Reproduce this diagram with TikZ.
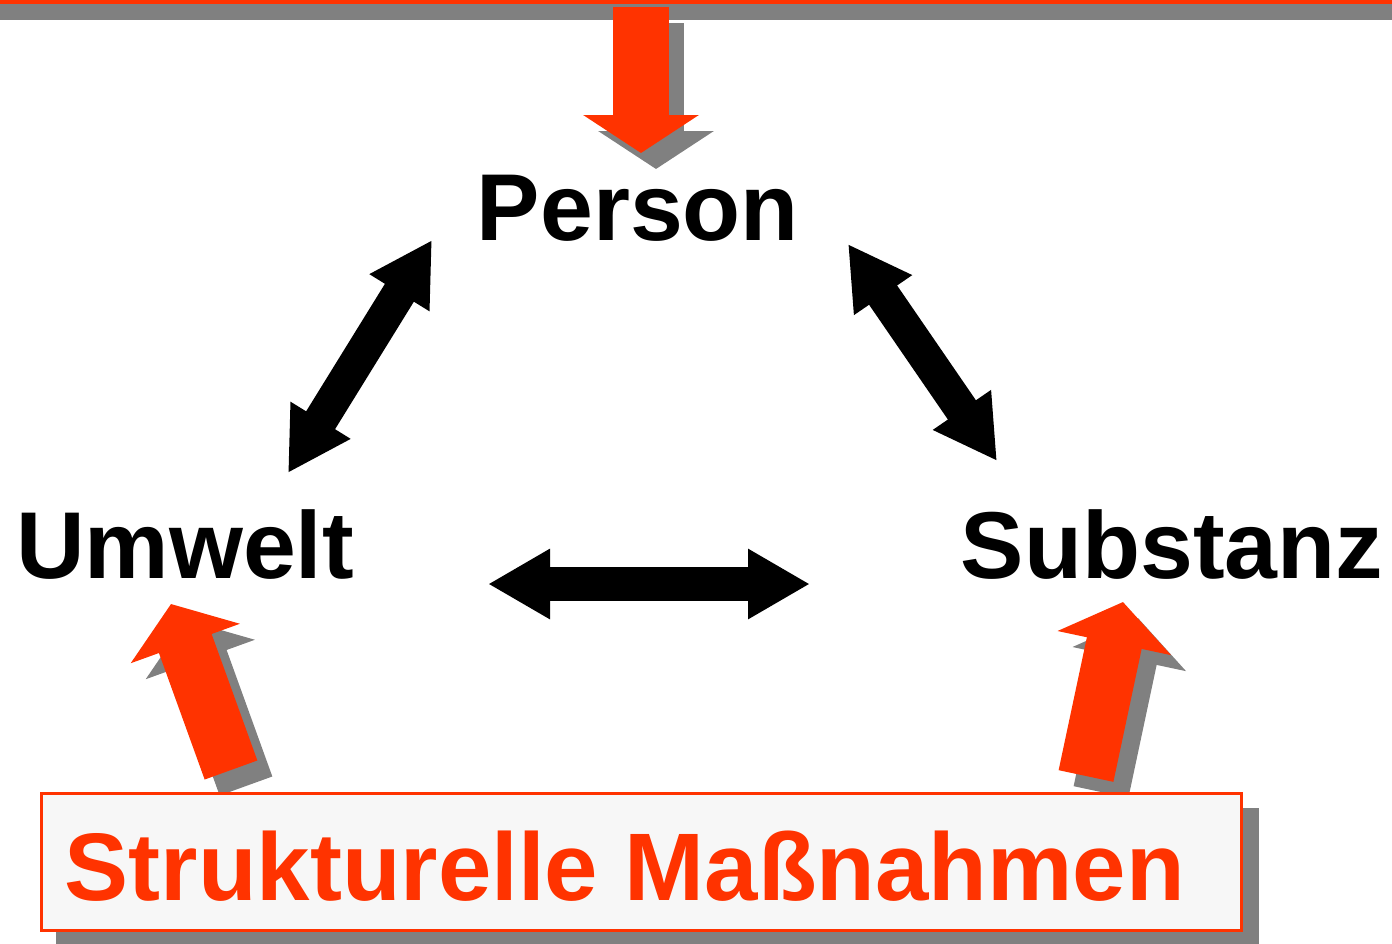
\documentclass[tikz,border=0pt]{standalone}
\usepackage{fontspec}
\setmainfont{Liberation Sans}
\usepackage{tikz}
\usetikzlibrary{arrows.meta}
\definecolor{ffudqq}{rgb}{1.,0.2,0.}
\definecolor{sqsqsq}{rgb}{0.5,0.5,0.5}
\definecolor{fvfvfv}{rgb}{0.97,0.97,0.97}
\tikzset{every node/.style={font=\fontsize{95}{100}\selectfont\bfseries,inner sep=0pt}}

\begin{document}
\begin{tikzpicture}[line cap=butt,line join=miter,x=1pt,y=-1pt,
    duo/.style={line width=34pt,{Triangle[length=62pt 0,width=66pt 0]}-{Triangle[length=62pt 0,width=66pt 0]}},
    lift/.style={line width=56pt,-{Triangle[length=42pt 0,width=114pt 0]}}]
    \useasboundingbox (0,0) rectangle (1392,943);
    % band at the top
    \fill [sqsqsq] (0,4) rectangle (1392,20);
    \fill [ffudqq] (0,0) rectangle (1392,4);
    % labels
    \node [anchor=base] (person) at (638,240) {Person};
    \node [anchor=base] (umwelt) at (185,578) {Umwelt};
    \node [anchor=base] (substanz) at (1172,578) {Substanz};
    % ends of the arrows
    \coordinate (pu) at (432,240); \coordinate (up) at (288,473);
    \coordinate (ps) at (848,244); \coordinate (sp) at (997,461);
    \coordinate (us) at (488,584); \coordinate (su) at (810,584);
    \coordinate (top) at (641,7); \coordinate (topend) at (641,153);
    \coordinate (ubase) at (231,770); \coordinate (uend) at (171,604);
    \coordinate (sbase) at (1086,776); \coordinate (send) at (1123,602);
    % black double arrows
    \draw [duo] (up) -- (pu);
    \draw [duo] (sp) -- (ps);
    \draw [duo] (us) -- (su);
    % red arrows with shadow
    \draw [lift,sqsqsq,-{Triangle[length=38pt 0,width=114pt 0]}] ([shift={(15,16)}]top) -- ([shift={(15,16)}]topend);
    \draw [lift,ffudqq,-{Triangle[length=38pt 0,width=114pt 0]}] (top) -- (topend);
    \draw [lift,sqsqsq] ([shift={(15,16)}]ubase) -- ([shift={(15,16)}]uend);
    \draw [lift,ffudqq] (ubase) -- (uend);
    \draw [lift,sqsqsq] ([shift={(15,16)}]sbase) -- ([shift={(15,16)}]send);
    \draw [lift,ffudqq] (sbase) -- (send);
    % box
    \fill [sqsqsq] (56,808) rectangle (1259,947);
    \draw [line width=3.5pt,color=ffudqq,fill=fvfvfv] (41.5,793.5) rectangle (1241.5,930.5);
    \node [anchor=base,text=ffudqq,font=\fontsize{96}{100}\selectfont\bfseries] (massnahmen) at (625,900) {Strukturelle Maßnahmen};
\end{tikzpicture}
\end{document}
